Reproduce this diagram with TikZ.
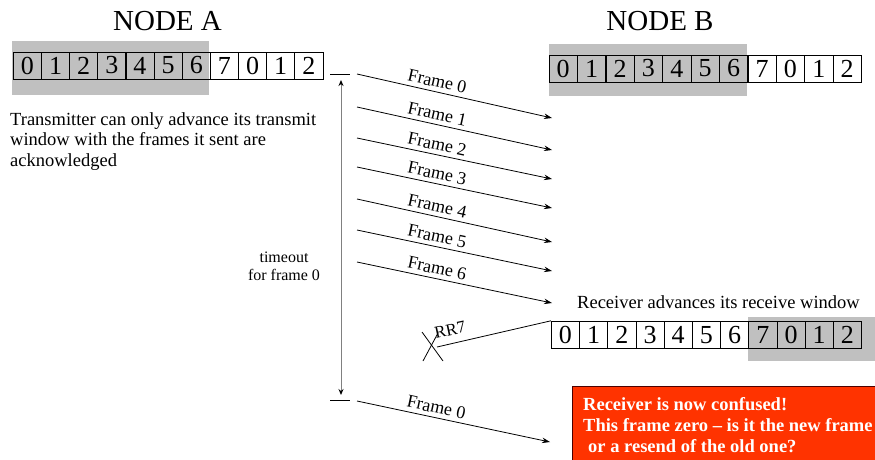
\documentclass[tikz,border=0pt]{standalone}
\usepackage{fontspec}
\setmainfont{Liberation Serif}
\usetikzlibrary{arrows.meta}
\definecolor{graybg}{RGB}{192,192,192}
\definecolor{redbox}{RGB}{255,51,0}
\definecolor{tgray}{RGB}{128,128,128}
\begin{document}
\begin{tikzpicture}[x=1pt,y=-1pt,
  cell/.style={draw=black,line width=0.8pt,minimum width=28.2pt,minimum height=27pt,inner sep=0pt,font=\fontsize{26}{26}\selectfont},
  msg/.style={line width=0.8pt,-{Stealth[length=8pt,width=5.5pt]}},
  flabel/.style={sloped,above,pos=0.4,inner sep=4pt,font=\fontsize{18}{18}\selectfont},
  txt/.style={inner sep=0pt,font=\fontsize{18.5}{20.5}\selectfont}]
\useasboundingbox (0,0) rectangle (875,459);
\clip (0,0) rectangle (875,459);
% titles
\node[txt,font=\fontsize{29}{29}\selectfont,anchor=base] (ta) at (167.5,30) {NODE A};
\node[txt,font=\fontsize{29}{29}\selectfont,anchor=base] (tb) at (660,30) {NODE B};
% gray windows
\fill[graybg] (12,41) rectangle (209,95);
\fill[graybg] (549,44) rectangle (747,96);
\fill[graybg] (748,317) rectangle (880,361);
% rows
\foreach \d [count=\i from 0] in {0,1,2,3,4,5,6,7,0,1,2}
  \node[cell] (a\i) at ({13.3+28.15*(\i+0.5)},65.5) {\d};
\foreach \d [count=\i from 0] in {0,1,2,3,4,5,6,7,0,1,2}
  \node[cell] (b\i) at ({549+28.4*(\i+0.5)},68.5) {\d};
\foreach \d [count=\i from 0] in {0,1,2,3,4,5,6,7,0,1,2}
  \node[cell] (c\i) at ({551.3+28.2*(\i+0.5)},334.7) {\d};
% left text
\node[txt,anchor=north west,align=left] (note) at (10,112.4)
  {Transmitter can only advance its transmit\\window with the frames it sent are\\acknowledged};
% timeout
\coordinate (tk1a) at (330,74); \coordinate (tk1b) at (350,74);
\coordinate (tk2a) at (330,400); \coordinate (tk2b) at (350,400);
\draw[line width=0.8pt] (tk1a) -- (tk1b);
\draw[line width=0.8pt] (tk2a) -- (tk2b);
\coordinate (tt) at (341,80); \coordinate (tbm) at (341,395);
\draw[tgray,line width=1pt,{Stealth[length=6pt,width=5pt,color=black]}-{Stealth[length=6pt,width=5pt,color=black]}] (tt) -- (tbm);
\node[txt,font=\fontsize{16}{18.3}\selectfont,align=center,anchor=center] (tol) at (284,266) {timeout\\for frame 0};
% frames
\foreach \k/\ys/\ye in {0/74/118,1/107/150,2/138/179,3/167/208,4/199/242,5/230/271,6/262/303}{
  \coordinate (fs\k) at (357,\ys);
  \coordinate (fe\k) at (552,\ye);
  \draw[msg] (fs\k) -- node[flabel] {Frame \k} (fe\k);
}
\coordinate (fs7) at (357,401);
\coordinate (fe7) at (550,442);
\draw[msg] (fs7) -- node[flabel] {Frame 0} (fe7);
% receiver text
\node[txt,anchor=base west] (rcv) at (577,308) {Receiver advances its receive window};
% RR7
\coordinate (xc) at (437,347);
\draw[line width=0.8pt] (c0.north west) -- (xc);
\coordinate (x1a) at (422,332); \coordinate (x1b) at (443,361);
\coordinate (x2a) at (438,333); \coordinate (x2b) at (423,361);
\draw[line width=0.8pt] (x1a) -- (x1b);
\draw[line width=0.8pt] (x2a) -- (x2b);
\node[txt,font=\fontsize{17}{17}\selectfont,rotate=12] (rr) at (450,330) {RR7};
% red box
\fill[redbox,draw=black!70!red,line width=0.8pt] (572,386) rectangle (880,465);
\node[txt,anchor=base west,text=white,font=\fontsize{18.5}{18.5}\selectfont\bfseries] (r1) at (583,410) {Receiver is now confused!};
\node[txt,anchor=base west,text=white,font=\fontsize{18.5}{18.5}\selectfont\bfseries] (r2) at (583,431) {This frame zero -- is it the new frame};
\node[txt,anchor=base west,text=white,font=\fontsize{18.5}{18.5}\selectfont\bfseries] (r3) at (588,452) {or a resend of the old one?};
\end{tikzpicture}
\end{document}
